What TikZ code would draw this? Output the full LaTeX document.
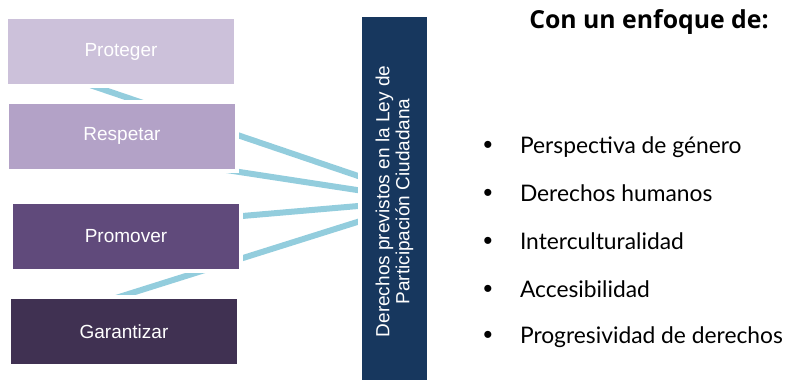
\documentclass[tikz,border=0pt]{standalone}
\usepackage{fontspec}
\setmainfont{Liberation Sans}
\newfontfamily\listfont{Lato}
\newfontfamily\titlefont{Open Sans}
\usetikzlibrary{calc}
\usetikzlibrary{positioning}
\usetikzlibrary{backgrounds}

\begin{document}
\begin{tikzpicture}[x=0.5pt, y=-0.5pt, every node/.style={inner sep=0,outer sep=0},
        box/.style={minimum width=113pt, minimum height=32.5pt, text=white,
            font=\fontsize{9.5}{11}\selectfont, preaction={draw=white, line width=4pt}},
        link/.style={line width=3pt, draw=linkblue},
        item/.style={anchor=base west, font=\listfont\fontsize{11.4}{13}\selectfont},
        dot/.style={font=\fontsize{13}{13}\selectfont}]
        % Colors
        \definecolor{lila1}{RGB}{204,193,218}
        \definecolor{lila2}{RGB}{179,162,199}
        \definecolor{lila3}{RGB}{96,74,123}
        \definecolor{lila4}{RGB}{64,49,82}
        \definecolor{barblue}{RGB}{23,55,94}
        \definecolor{linkblue}{RGB}{147,205,221}

        \useasboundingbox (0,0) rectangle (786,380);

        \node[box, fill=lila1] (proteger) at (121,51.5) {Proteger};
        \node[box, fill=lila2] (respetar) at (122,136) {Respetar};
        \node[box, fill=lila3] (promover) at (126,236) {Promover};
        \node[box, fill=lila4] (garantizar) at (124,331.5) {Garantizar};

        \node[fill=barblue, minimum width=32.5pt, minimum height=181.5pt,
            preaction={draw=white, line width=4pt}] (bar) at (394.5,198.5) {};
        \node[rotate=90, align=center, text=white, font=\fontsize{9.5}{10}\selectfont] (bartext)
            at ($(bar.center)+(0,3)$) {Derechos previstos en la Ley de\\Participación Ciudadana};

        % Links, behind the boxes
        \begin{scope}[on background layer]
            \draw[link] ($(proteger.south)+(-31,1)$) -- ($(bar.west)+(8,-18.5)$);
            \draw[link] ($(respetar.center)+(0,18)$) -- ($(bar.west)+(8,-6.5)$);
            \draw[link] ($(promover.center)+(0,-10)$) -- ($(bar.west)+(8,6.5)$);
            \draw[link] ($(garantizar.north)+(-24,4)$) -- ($(bar.west)+(8,19.5)$);
        \end{scope}

        % Right column
        \node[anchor=base, font=\titlefont\bfseries\fontsize{12.4}{14}\selectfont] (title) at (649,28.5) {Con un enfoque de:};

        \node[item] (item1) at (520,153) {Perspectiva de género};
        \node[item] (item2) at (520,201) {Derechos humanos};
        \node[item] (item3) at (520,249) {Interculturalidad};
        \node[item] (item4) at (520,297) {Accesibilidad};
        \node[item] (item5) at (520,343) {Progresividad de derechos};

        \node[dot] (dot1) at (488,147) {•};
        \node[dot] (dot2) at (488,195) {•};
        \node[dot] (dot3) at (488,243) {•};
        \node[dot] (dot4) at (488,291) {•};
        \node[dot] (dot5) at (488,337) {•};
      \end{tikzpicture}
\end{document}
